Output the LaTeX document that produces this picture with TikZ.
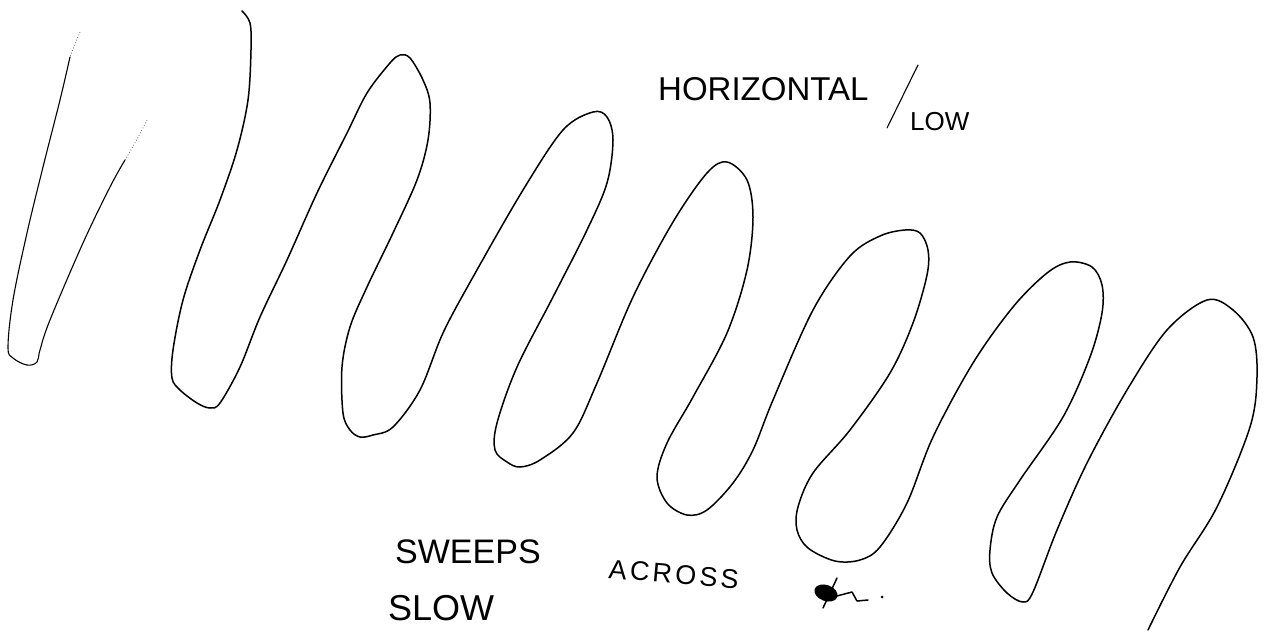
\documentclass[tikz,border=0pt]{standalone}
\usepackage{fontspec}
\setmainfont{Liberation Sans}
\newfontfamily\spaced[LetterSpace=12]{Liberation Sans}
\begin{document}
\begin{tikzpicture}[x=1pt,y=-1pt,
  pen/.style={line width=1.5pt,line cap=round,line join=round},
  thinpen/.style={line width=1.1pt,line cap=round,line join=round},
  faint/.style={line width=0.8pt,dotted,black!60},
  hand/.style={inner sep=0pt,font=\fontsize{#1}{#1}\selectfont}]
\useasboundingbox (0,0) rectangle (1264,637);
% first (left) stroke
\draw[thinpen] plot[smooth,tension=0.6] coordinates {
 (70,57) (60,100) (43,167) (27,233) (13,300) (8,347) (13,358) (27,365)
 (37,362) (40,350) (50,320) (83,243) (110,187) (125,160)};
\draw[faint] plot[smooth] coordinates {(80,32) (75,44) (70,57)};
\draw[faint] plot[smooth] coordinates {(125,160) (136,141) (147,120)};
% main zigzag stroke
\draw[pen] plot[smooth,tension=0.55] coordinates {
 (242,11) (250,23) (251,50) (248,100) (237,150) (220,200) (200,250) (183,300)
 (173,350) (172,378) (180,390) (197,403) (210,408) (220,403) (240,367) (260,317)
 (287,260) (317,193) (347,133) (367,93) (390,63) (400,55) (410,58) (423,80)
 (430,103) (428,140) (417,180) (393,233) (367,287) (350,327) (342,367) (343,413)
 (350,430) (360,437) (373,435) (393,427) (420,390) (443,333) (473,277) (523,190)
 (563,130) (593,112) (607,117) (613,140) (607,183) (587,230) (553,297) (517,367)
 (497,423) (495,450) (507,462) (520,467) (540,460) (573,433) (597,383) (633,297)
 (673,222) (707,173) (727,162) (747,180) (753,217) (747,270) (727,333) (693,397)
 (667,443) (657,477) (667,503) (687,515) (707,510) (733,483) (753,450) (773,400)
 (813,310) (850,256) (880,236) (905,230) (920,233) (928,250) (927,275) (913,323)
 (890,373) (850,430) (813,473) (798,507) (797,530) (808,548) (835,561) (860,560)
 (880,547) (907,503) (933,437) (973,363) (1013,307) (1047,273) (1070,262) (1092,267)
 (1102,285) (1102,313) (1090,357) (1063,417) (1020,480) (997,517) (990,550) (992,573)
 (1007,593) (1023,602) (1033,592) (1057,530) (1087,463) (1127,390) (1167,330) (1207,300)
 (1233,310) (1253,337) (1257,377) (1250,427) (1217,507) (1180,567) (1148,630)};
% labels
\node[hand=33,anchor=base west] (horiz) at (658,100) {HORIZONTAL};
\coordinate (s1) at (887,128);
\coordinate (s2) at (918,65);
\draw[thinpen] (s1) -- (s2);
\node[hand=26,anchor=base west] (low) at (910,130) {LOW};
\node[hand=34,anchor=base west] (sweeps) at (395,563) {SWEEPS};
\node[hand=36,anchor=base west] (slow) at (388,620) {SLOW};
\node[hand=27,anchor=base west,rotate=-5] (across) at (608,578) {\spaced ACROSS};
% scribbled symbol
\fill[rotate around={-20:(826,593)}] (826,593) ellipse [x radius=12pt,y radius=8pt];
\draw[pen] (837,578) -- (823,608);
\draw[pen] (833,597) -- (852,592) -- (857,601) -- (868,600);
\fill (882,597) circle [radius=1.5pt];
\end{tikzpicture}
\end{document}
